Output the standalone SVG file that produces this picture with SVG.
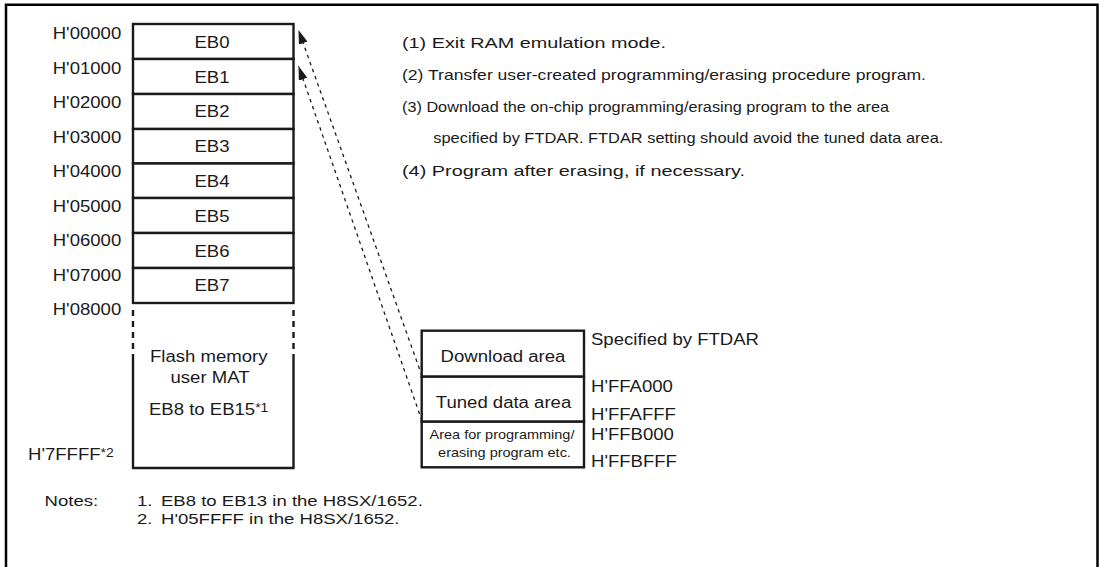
<svg xmlns="http://www.w3.org/2000/svg" width="1104" height="567" viewBox="0 0 1104 567">
<defs>
<style>
text{font-family:"Liberation Sans",Arial,Helvetica,sans-serif;fill:#1a1a1a;font-size:16px}
.p{font-size:15px}
.s{font-size:12.5px}
.e{text-anchor:end}
.m{text-anchor:middle}
.box{fill:#fff;stroke:#1a1a1a;stroke-width:2.4}
.ln{stroke:#1a1a1a;stroke-width:2.4;fill:none}
.dsh{stroke:#1a1a1a;stroke-width:2.4;fill:none;stroke-dasharray:6 5}
.dl{stroke:#1a1a1a;stroke-width:1.3;stroke-dasharray:3.5 4;fill:none}
</style>
<marker id="ah" markerUnits="userSpaceOnUse" markerWidth="15" markerHeight="9" refX="14" refY="4.5" orient="auto"><path d="M0,0 L14,4.5 L0,9 Z" fill="#1a1a1a"/></marker>
</defs>
<rect width="1104" height="567" fill="#fff"/>
<path d="M6,575 V4.8 H1097.5 V575" fill="none" stroke="#000" stroke-width="2.5"/>

<g id="address-labels">
<text class="e" transform="translate(121.2,39) scale(1.16,1)">H'00000</text>
<text class="e" transform="translate(121.2,73.5) scale(1.16,1)">H'01000</text>
<text class="e" transform="translate(121.2,108) scale(1.16,1)">H'02000</text>
<text class="e" transform="translate(121.2,142.5) scale(1.16,1)">H'03000</text>
<text class="e" transform="translate(121.2,177) scale(1.16,1)">H'04000</text>
<text class="e" transform="translate(121.2,211.5) scale(1.16,1)">H'05000</text>
<text class="e" transform="translate(121.2,246) scale(1.16,1)">H'06000</text>
<text class="e" transform="translate(121.2,280.5) scale(1.16,1)">H'07000</text>
<text class="e" transform="translate(121.2,315) scale(1.16,1)">H'08000</text>
<text transform="translate(28,460) scale(1.16,1)">H'7FFFF<tspan font-size="12" dy="-3">*2</tspan></text>
</g>

<g id="eb0"><rect class="box" x="133" y="24" width="160.5" height="35"/><text class="m" transform="translate(212,47.5) scale(1.16,1)">EB0</text></g>
<g id="eb1"><rect class="box" x="133" y="59" width="160.5" height="35"/><text class="m" transform="translate(212,82.5) scale(1.16,1)">EB1</text></g>
<g id="eb2"><rect class="box" x="133" y="94" width="160.5" height="35"/><text class="m" transform="translate(212,117) scale(1.16,1)">EB2</text></g>
<g id="eb3"><rect class="box" x="133" y="129" width="160.5" height="34.5"/><text class="m" transform="translate(212,151.5) scale(1.16,1)">EB3</text></g>
<g id="eb4"><rect class="box" x="133" y="163.5" width="160.5" height="34.5"/><text class="m" transform="translate(212,186.5) scale(1.16,1)">EB4</text></g>
<g id="eb5"><rect class="box" x="133" y="198" width="160.5" height="35"/><text class="m" transform="translate(212,221.5) scale(1.16,1)">EB5</text></g>
<g id="eb6"><rect class="box" x="133" y="233" width="160.5" height="35"/><text class="m" transform="translate(212,256.5) scale(1.16,1)">EB6</text></g>
<g id="eb7"><rect class="box" x="133" y="268" width="160.5" height="35"/><text class="m" transform="translate(212,291) scale(1.16,1)">EB7</text></g>

<g id="flash-user-mat">
<path class="dsh" d="M133,310 V352 M293.5,310 V352"/>
<path class="ln" d="M133,354 V468 H293.5 V354"/>
<text class="m" transform="translate(208.7,362) scale(1.16,1)">Flash memory</text>
<text class="m" transform="translate(210,383) scale(1.16,1)">user MAT</text>
<text transform="translate(149,415) scale(1.16,1)">EB8 to EB15<tspan font-size="12" dy="-3">*1</tspan></text>
</g>

<g id="download-area"><rect class="box" x="421.7" y="330.7" width="162.3" height="46"/><text class="m" transform="translate(503,361.7) scale(1.16,1)">Download area</text></g>
<g id="tuned-data-area"><rect class="box" x="421.7" y="376.7" width="162.3" height="45"/><text class="m" transform="translate(503.5,407.7) scale(1.16,1)">Tuned data area</text></g>
<g id="program-area"><rect class="box" x="421.7" y="421.7" width="162.3" height="45.6"/>
<text class="m s" transform="translate(502,439.3) scale(1.16,1)">Area for programming/</text>
<text class="m s" transform="translate(504.5,456.7) scale(1.16,1)">erasing program etc.</text></g>

<g id="area-labels">
<text transform="translate(591,345) scale(1.16,1)">Specified by FTDAR</text>
<text transform="translate(591,391.7) scale(1.16,1)">H'FFA000</text>
<text transform="translate(591,420) scale(1.16,1)">H'FFAFFF</text>
<text transform="translate(591,440) scale(1.16,1)">H'FFB000</text>
<text transform="translate(591,466.7) scale(1.16,1)">H'FFBFFF</text>
</g>

<g id="connectors">
<path class="dl" d="M422,376 L298.5,30" marker-end="url(#ah)"/>
<path class="dl" d="M422,421 L298.5,66" marker-end="url(#ah)"/>
</g>

<g id="steps">
<text class="p" x="402" y="47.7" textLength="264" lengthAdjust="spacingAndGlyphs">(1) Exit RAM emulation mode.</text>
<text class="p" x="402" y="80" textLength="524" lengthAdjust="spacingAndGlyphs">(2) Transfer user-created programming/erasing procedure program.</text>
<text class="p" x="402" y="111.7" textLength="487" lengthAdjust="spacingAndGlyphs">(3) Download the on-chip programming/erasing program to the area</text>
<text class="p" x="433.3" y="143.3" textLength="510" lengthAdjust="spacingAndGlyphs">specified by FTDAR. FTDAR setting should avoid the tuned data area.</text>
<text class="p" x="402" y="175.7" textLength="343" lengthAdjust="spacingAndGlyphs">(4) Program after erasing, if necessary.</text>
</g>

<g id="notes">
<text class="p" transform="translate(44.6,506) scale(1.237,1)">Notes:</text>
<text class="p" transform="translate(137,506) scale(1.237,1)">1.</text>
<text class="p" transform="translate(161,506) scale(1.237,1)">EB8 to EB13 in the H8SX/1652.</text>
<text class="p" transform="translate(137,524) scale(1.237,1)">2.</text>
<text class="p" transform="translate(161,524) scale(1.237,1)">H'05FFFF in the H8SX/1652.</text>
</g>
</svg>
